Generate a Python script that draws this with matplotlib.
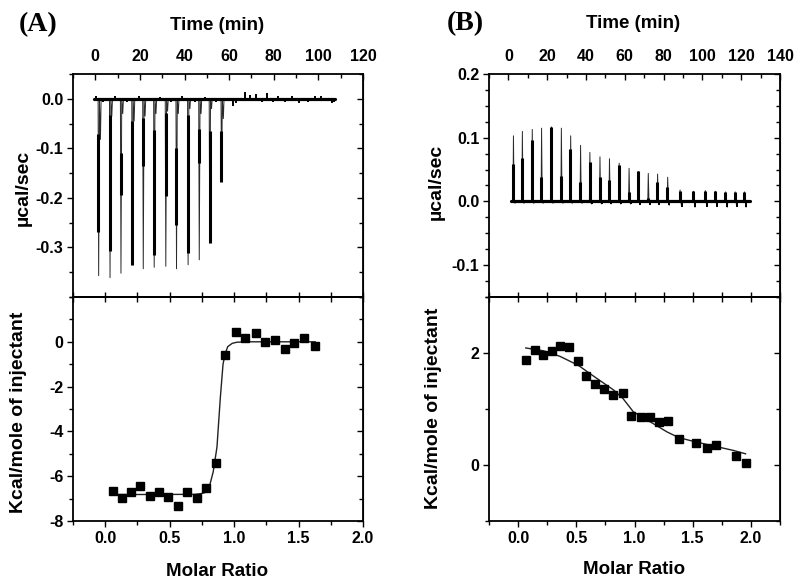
import matplotlib
matplotlib.use("Agg")
import matplotlib.pyplot as plt
import numpy as np

plt.rcParams['font.family'] = ['Liberation Sans', 'DejaVu Sans']
plt.rcParams['font.weight'] = 'bold'
plt.rcParams['axes.unicode_minus'] = False
plt.rcParams['xtick.labelsize'] = 11.5
plt.rcParams['ytick.labelsize'] = 11.5

# ---------------- data: panel A ----------------
injA_time = [1.5, 6.6, 11.5, 16.6, 21.5, 26.4, 31.6, 36.4, 41.6, 46.6, 51.3, 56.6]
injA_peak = [-0.357, -0.361, -0.352, -0.335, -0.343, -0.340, -0.338, -0.343, -0.335, -0.325, -0.291, -0.167]
injA_band_top = [-0.072, -0.032, -0.109, -0.045, -0.038, -0.062, -0.028, -0.099, -0.032, -0.060, -0.065, -0.065]
injA_band_bot = [-0.268, -0.308, -0.194, -0.335, -0.136, -0.315, -0.197, -0.254, -0.312, -0.130, -0.291, -0.167]
injA_tail = [-0.082, -0.035, -0.030, -0.045, -0.035, -0.030, -0.025, -0.030, -0.020, -0.030, -0.020, -0.040]
blipA_time = [0.5, 3.5, 9.0, 14.0, 19.5, 24.0, 29.0, 34.0, 39.0, 44.5, 49.0, 54.0, 61.5, 63.0, 67.0, 69.5, 72.0, 74.5,
              77.0, 79.5, 82.0, 85.0, 88.0, 91.5, 95.5, 98.5, 101.0, 103.5, 106.0, 107.0]
blipA_val = [0.006, -0.006, 0.005, -0.006, 0.006, -0.005, 0.004, -0.006, 0.005, -0.006, 0.004, -0.006, -0.014, -0.009,
             0.013, 0.007, 0.009, -0.006, 0.011, -0.007, 0.006, -0.007, 0.005, -0.009, -0.007, 0.005, 0.006, -0.005,
             -0.009, -0.006]
baseA_range = [-0.5, 107.5]

ratioA = [0.057, 0.130, 0.202, 0.272, 0.345, 0.415, 0.485, 0.567, 0.637, 0.710, 0.782, 0.858, 0.930, 1.013, 1.085,
          1.166, 1.236, 1.316, 1.396, 1.466, 1.546, 1.629]
heatA = [-6.68, -6.97, -6.69, -6.44, -6.90, -6.69, -6.94, -7.31, -6.69, -6.96, -6.51, -5.42, -0.58, 0.42, 0.19,
         0.39, -0.01, 0.10, -0.30, -0.07, 0.15, -0.19]
fitA_x = [0.057, 0.70, 0.76, 0.785, 0.811, 0.838, 0.867, 0.893, 0.914, 0.93, 0.95, 0.985, 1.02, 1.10, 1.629]
fitA_y = [-6.82, -6.81, -6.76, -6.70, -6.40, -5.80, -4.70, -2.50, -1.00, -0.55, -0.22, -0.07, -0.02, 0.0, 0.0]

# ---------------- data: panel B ----------------
injB_time = [2.6, 7.2, 12.3, 17.1, 22.2, 27.3, 32.1, 37.2, 42.0, 47.2, 52.1, 57.1, 62.2, 67.0, 72.1, 76.9, 82.1,
             88.5, 95.4, 101.5, 106.7, 112.0, 116.9, 121.7]
injB_peak = [0.103, 0.110, 0.113, 0.115, 0.117, 0.115, 0.103, 0.088, 0.077, 0.070, 0.067, 0.060, 0.052, 0.047,
             0.044, 0.043, 0.038, 0.018, 0.016, 0.017, 0.016, 0.015, 0.015, 0.015]
injB_band = [0.059, 0.068, 0.096, 0.038, 0.117, 0.040, 0.083, 0.031, 0.062, 0.038, 0.033, 0.057, 0.015, 0.047,
             0.006, 0.030, 0.022, 0.017, 0.016, 0.017, 0.016, 0.015, 0.015, 0.015]
injB_tail = [-0.003, -0.003, -0.003, -0.003, -0.003, -0.003, -0.003, -0.003, -0.004, -0.004, -0.004, -0.004,
             -0.004, -0.005, -0.005, -0.005, -0.006, -0.008, -0.009, -0.008, -0.008, -0.009, -0.008, -0.009]
baseB_range = [1.5, 124.5]

ratioB = [0.066, 0.144, 0.216, 0.293, 0.359, 0.437, 0.517, 0.583, 0.661, 0.739, 0.819, 0.900, 0.974, 1.055, 1.129,
          1.207, 1.288, 1.379, 1.532, 1.624, 1.704, 1.871, 1.954]
heatB = [1.87, 2.06, 1.96, 2.03, 2.12, 2.11, 1.85, 1.59, 1.44, 1.35, 1.25, 1.29, 0.88, 0.86, 0.86, 0.77, 0.79,
         0.46, 0.40, 0.30, 0.36, 0.16, 0.03]
fitB_x = [0.066, 0.216, 0.36, 0.517, 0.66, 0.82, 0.90, 0.99, 1.055, 1.16, 1.28, 1.38, 1.51, 1.68, 1.85, 1.954]
fitB_y = [2.09, 2.04, 1.94, 1.78, 1.57, 1.34, 1.19, 0.95, 0.87, 0.74, 0.59, 0.49, 0.42, 0.34, 0.26, 0.20]

# ---------------- figure ----------------
W, H = 800, 588
fig = plt.figure(figsize=(8, 5.88), dpi=100)

def frac(x0, y0, x1, y1):
    return [x0 / W, 1 - y1 / H, (x1 - x0) / W, (y1 - y0) / H]

LABFS = 13.5

def style_common(ax):
    for s in ax.spines.values():
        s.set_linewidth(1.3)
    ax.set_facecolor('none')

def draw_trace(ax, times, peaks, band_a, band_b, tails, base_range, color='#2a2a2a'):
    xs, ys = [], []
    for t, p, tl in zip(times, peaks, tails):
        xs += [t - 0.25, t, t + 0.35, t + 0.8, t + 1.1, t + 1.4]
        ys += [0.0, p, 0.0, tl, 0.0, 0.0]
    ax.plot(base_range, [0, 0], color='black', lw=2.3, solid_capstyle='round', zorder=3)
    ax.plot(xs, ys, color=color, lw=0.7, zorder=2)
    ax.vlines(np.array(times) - 0.1, band_a, band_b, color='black', lw=2.2, zorder=4)

def make_pair(xl, xr, ytop, ymid, ybot, tlim, tmaj, tmin, ylim_t, ymaj_t, ymin_t, tfmt,
              rlim, ylim_b, ymaj_b, ymin_b):
    axb = fig.add_axes(frac(xl, ymid, xr, ybot))
    axt = fig.add_axes(frac(xl, ytop, xr, ymid))
    for ax in (axt, axb):
        style_common(ax)

    # upper panel
    axt.set_xlim(*tlim)
    axt.set_ylim(*ylim_t)
    axt.set_xticks(tmaj)
    axt.set_xticks(tmin, minor=True)
    axt.set_yticks(ymaj_t)
    axt.set_yticks(ymin_t, minor=True)
    axt.set_yticklabels([tfmt(v) for v in ymaj_t])
    axt.set_xticklabels([str(int(v)) for v in tmaj])
    axt.tick_params(axis='x', which='both', direction='in', top=True, bottom=False,
                    labeltop=True, labelbottom=False, pad=7, width=1)
    axt.tick_params(axis='x', which='major', length=4)
    axt.tick_params(axis='x', which='minor', length=3)
    axt.tick_params(axis='y', which='both', direction='out', left=True, right=False, pad=3, width=1)
    axt.tick_params(axis='y', which='major', length=4)
    axt.tick_params(axis='y', which='minor', length=3)
    sr = axt.secondary_yaxis('right')
    sr.set_yticks(ymaj_t)
    sr.set_yticks(ymin_t, minor=True)
    sr.tick_params(axis='y', which='both', direction='in', labelright=False, width=1)
    sr.tick_params(axis='y', which='major', length=4)
    sr.tick_params(axis='y', which='minor', length=3)

    # lower panel
    rmaj = np.arange(0, rlim[1] + 0.01, 0.5)
    rmin = np.arange(-0.25, rlim[1] + 0.01, 0.25)
    axb.set_xlim(*rlim)
    axb.set_ylim(*ylim_b)
    axb.set_xticks(rmaj)
    axb.set_xticks(rmin, minor=True)
    axb.set_xticklabels(['%.1f' % v for v in rmaj])
    axb.set_yticks(ymaj_b)
    axb.set_yticks(ymin_b, minor=True)
    axb.set_yticklabels([str(int(v)) for v in ymaj_b])
    axb.tick_params(axis='x', which='both', direction='out', pad=3, width=1)
    axb.tick_params(axis='both', which='major', length=4)
    axb.tick_params(axis='both', which='minor', length=3)
    axb.tick_params(axis='y', which='both', direction='out', pad=3, width=1)
    st = axb.secondary_xaxis('top')
    st.set_xticks(rmaj)
    st.set_xticks(rmin, minor=True)
    st.tick_params(axis='x', which='both', direction='inout', labeltop=False, length=7, width=1)
    st.spines['top'].set_linewidth(1.3)
    sr2 = axb.secondary_yaxis('right')
    sr2.set_yticks(ymaj_b)
    sr2.set_yticks(ymin_b, minor=True)
    sr2.tick_params(axis='y', which='both', direction='in', labelright=False, width=1)
    sr2.tick_params(axis='y', which='major', length=4)
    sr2.tick_params(axis='y', which='minor', length=3)
    return axt, axb

fmt1 = lambda v: '%.1f' % v

axA_t, axA_b = make_pair(73, 363, 74, 297, 521,
                         (-10, 120), np.arange(0, 121, 20), np.arange(-10, 121, 10),
                         (-0.4, 0.05), [-0.3, -0.2, -0.1, 0.0], np.arange(-0.4, 0.051, 0.05), fmt1,
                         (-0.25, 2.0), (-8, 2), [-8, -6, -4, -2, 0], np.arange(-8, 2.01, 1))

axB_t, axB_b = make_pair(489, 780, 74, 297, 521,
                         (-10, 140), np.arange(0, 141, 20), np.arange(-10, 141, 10),
                         (-0.15, 0.2), [-0.1, 0.0, 0.1, 0.2], np.arange(-0.15, 0.201, 0.025), fmt1,
                         (-0.25, 2.25), (-1, 3), [0, 2], np.arange(-1, 3.01, 1))

# traces
draw_trace(axA_t, injA_time, injA_peak, injA_band_top, injA_band_bot, injA_tail, baseA_range)
axA_t.vlines(blipA_time, 0, blipA_val, color='black', lw=1.4, zorder=3)
draw_trace(axB_t, injB_time, injB_peak, [0] * len(injB_band), injB_band, injB_tail, baseB_range)
axB_t.vlines(np.array(injB_time) + 0.9, 0, injB_tail, color='black', lw=1.4, zorder=3)

# isotherms
axA_b.plot(fitA_x, fitA_y, color='#222222', lw=1.0, zorder=2)
axA_b.plot(ratioA, heatA, 's', color='black', ms=5.5, zorder=3)
axB_b.plot(fitB_x, fitB_y, color='#222222', lw=1.0, zorder=2)
axB_b.plot(ratioB, heatB, 's', color='black', ms=5.5, zorder=3)

# texts
def ftext(x, y, s, **kw):
    fig.text(x / W, 1 - y / H, s, ha='center', va='center', **kw)

ftext(38, 25, '(A)', fontsize=20, fontweight='bold', family=['Liberation Serif', 'DejaVu Serif'])
ftext(465, 24, '(B)', fontsize=20, fontweight='bold', family=['Liberation Serif', 'DejaVu Serif'])
ftext(217, 25, 'Time (min)', fontsize=LABFS, fontweight='bold')
ftext(633, 24, 'Time (min)', fontsize=LABFS, fontweight='bold')
ftext(23, 188, 'µcal/sec', fontsize=14, fontweight='bold', rotation=90)
ftext(436, 182, 'µcal/sec', fontsize=14, fontweight='bold', rotation=90)
ftext(18.5, 412, 'Kcal/mole of injectant', fontsize=14, fontweight='bold', rotation=90)
ftext(433, 408, 'Kcal/mole of injectant', fontsize=14, fontweight='bold', rotation=90)
ftext(217, 571, 'Molar Ratio', fontsize=LABFS, fontweight='bold')
ftext(634, 570, 'Molar Ratio', fontsize=LABFS, fontweight='bold')

fig.savefig('out.png', dpi=100)
